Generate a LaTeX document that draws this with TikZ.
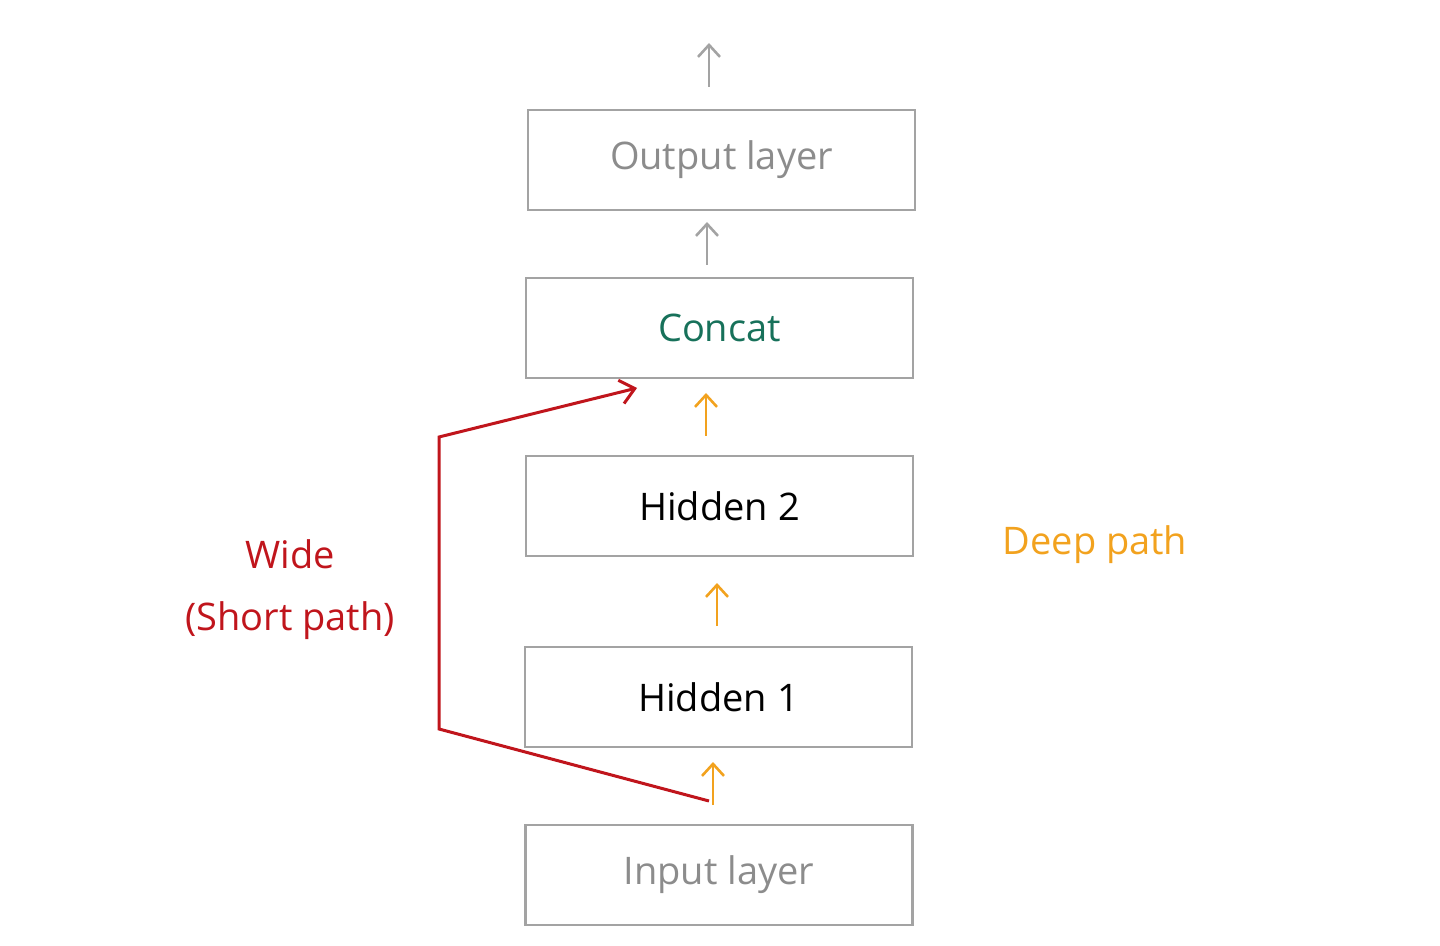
\documentclass[tikz,border=0pt]{standalone}
\usepackage{fontspec}
\setmainfont{Open Sans}
\usetikzlibrary{arrows.meta}
\definecolor{boxgray}{HTML}{A3A3A3}
\definecolor{txtgray}{HTML}{8C8C8C}
\definecolor{wred}{HTML}{C0151C}
\definecolor{dorange}{HTML}{F2A21E}
\definecolor{cgreen}{HTML}{17715A}
\tikzset{
  layer/.style={draw=boxgray, line width=1.3pt, minimum width=193.5pt, minimum height=50pt, inner sep=0pt, font=\fontsize{19}{22}\selectfont},
  flow/.style={line width=1.3pt, -{Straight Barb[length=6pt,width=11pt]}},
  lbl/.style={font=\fontsize{19}{23}\selectfont, align=center}
}
\begin{document}
\begin{tikzpicture}[x=0.5pt,y=-0.5pt]
\useasboundingbox (0,0) rectangle (1440,946);
\node[layer, text=txtgray] (out) at (721.5,160) {Output layer};
\node[layer, text=cgreen] (cat) at (719.5,328) {Concat};
\node[layer, text=black] (h2) at (719.5,506) {Hidden 2};
\node[layer, text=black] (h1) at (718.5,697) {Hidden 1};
\node[layer, text=txtgray] (in) at (719,875) {Input layer};

\coordinate (g0s) at (709,87);   \coordinate (g0e) at (709,43);
\coordinate (g1s) at (707,265);  \coordinate (g1e) at (707,222);
\coordinate (o1s) at (706,436);  \coordinate (o1e) at (706,393);
\coordinate (o2s) at (717,626);  \coordinate (o2e) at (717,583);
\coordinate (o3s) at (713,805);  \coordinate (o3e) at (713,762);
\draw[flow, boxgray] (g0s) -- (g0e);
\draw[flow, boxgray] (g1s) -- (g1e);
\draw[flow, dorange] (o1s) -- (o1e);
\draw[flow, dorange] (o2s) -- (o2e);
\draw[flow, dorange] (o3s) -- (o3e);

\coordinate (ws) at (709,801);
\coordinate (wb) at (439,729);
\coordinate (wt) at (439,437);
\coordinate (we) at (637,388);
\draw[wred, line width=1.5pt, -{Straight Barb[length=7pt,width=12pt]}] (ws) -- (wb) -- (wt) -- (we);

\node[lbl, text=wred] (wide) at (290,590) {Wide\\[8pt](Short path)};
\node[lbl, text=dorange] (deep) at (1095,545) {Deep path};
\end{tikzpicture}
\end{document}
